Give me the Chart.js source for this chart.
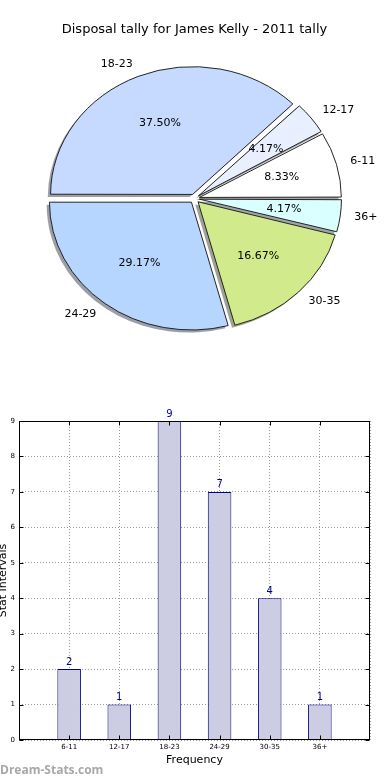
<!DOCTYPE html>
<html>
<head>
<meta charset="utf-8">
<script src="https://cdn.jsdelivr.net/npm/chart.js@4.4.1/dist/chart.umd.min.js"></script>
<style>
    body { margin: 0; background: #fff; }
    #wrap { position: relative; width: 390px; height: 780px; overflow: hidden; }
    #pie-chart { position: absolute; left: 0; top: 0; }
    #bar-chart { position: absolute; left: 0; top: 400px; }
    #mark { position: absolute; left: 0; top: 763px; font: bold 12px 'Open Sans', sans-serif; line-height: 14px; color: #a8a8a8; }
</style>
</head>
<body>
<div id="wrap">
    <canvas id="pie-chart" width="390" height="390"></canvas>
    <canvas id="bar-chart" width="390" height="380"></canvas>
    <div id="mark">Dream-Stats.com</div>
</div>
<script>
const categories = ['6-11', '12-17', '18-23', '24-29', '30-35', '36+'];
const counts = [2, 1, 9, 7, 4, 1];
const sliceColors = ['#ffffff', '#e8f0ff', '#c6daff', '#b7d6ff', '#d0ea8c', '#d9ffff'];
const chartTitle = 'Disposal tally for James Kelly - 2011 tally';

const FONT = "'DejaVu Sans', sans-serif";
const total = counts.reduce((sum, v) => sum + v, 0);
const pieRadius = 142;
const explode = 5;     // px each slice is pushed out
const squash = 0.9;    // the pie is drawn a bit flatter than round

// matplotlib goes counter-clockwise from 3 o'clock, chart.js clockwise -> reverse
const pieLabels = categories.slice().reverse();
const pieValues = counts.slice().reverse();
const pieColors = sliceColors.slice().reverse();

function shade(hex) {
    const n = parseInt(hex.slice(1), 16);
    const r = Math.round(((n >> 16) & 255) * 0.3);
    const g = Math.round(((n >> 8) & 255) * 0.3);
    const b = Math.round((n & 255) * 0.3);
    return `rgba(${r}, ${g}, ${b}, 0.5)`;
}

const pieLook = {
    id: 'pieLook',
    beforeDatasetsDraw(chart) {
        const ctx = chart.ctx;
        const arcs = chart.getDatasetMeta(0).data;
        const cx = arcs[0].x, cy = arcs[0].y;
        ctx.save();
        ctx.translate(cx, cy);
        ctx.scale(1, squash);
        ctx.translate(-cx, -cy);
        arcs.forEach((arc, i) => {
            // chart.js grows narrow slices when offset is set, take it back
            const circ = arc.endAngle - arc.startAngle;
            const fix = 1 - Math.sin(Math.min(Math.PI, circ));
            arc.outerRadius = pieRadius - explode * fix;

            const mid = (arc.startAngle + arc.endAngle) / 2;
            const sx = arc.x + explode * Math.cos(mid) - 2.8;
            const sy = arc.y + explode * Math.sin(mid) + 2.9;
            ctx.beginPath();
            ctx.moveTo(sx, sy);
            ctx.arc(sx, sy, pieRadius, arc.startAngle, arc.endAngle);
            ctx.closePath();
            ctx.fillStyle = shade(pieColors[i]);
            ctx.fill();
        });
    },
    afterDatasetsDraw(chart) {
        const ctx = chart.ctx;
        ctx.restore();
        const arcs = chart.getDatasetMeta(0).data;
        const cy = arcs[0].y;
        ctx.save();
        ctx.fillStyle = '#000';
        ctx.font = '11px ' + FONT;
        ctx.textBaseline = 'middle';
        arcs.forEach((arc, i) => {
            const mid = (arc.startAngle + arc.endAngle) / 2;
            const ox = arc.x + explode * Math.cos(mid);
            const oy = arc.y + explode * Math.sin(mid);
            const at = d => [ox + d * Math.cos(mid), cy + (oy + d * Math.sin(mid) - cy) * squash];

            const [lx, ly] = at(pieRadius * 1.1);
            ctx.textAlign = Math.cos(mid) < 0 ? 'right' : 'left';
            ctx.fillText(pieLabels[i], lx, ly);

            const [px, py] = at(pieRadius * 0.6);
            ctx.textAlign = 'center';
            ctx.fillText((pieValues[i] / total * 100).toFixed(2) + '%', px, py);
        });
        ctx.restore();
    }
};

new Chart(document.getElementById('pie-chart'), {
    type: 'pie',
    data: {
        labels: pieLabels,
        datasets: [{
            data: pieValues,
            backgroundColor: pieColors,
            borderColor: '#1a1a1a',
            borderWidth: 1,
            offset: explode * 4,
            hoverOffset: 0,
            rotation: 90,
            radius: pieRadius,
            clip: false
        }]
    },
    options: {
        responsive: false,
        animation: false,
        events: [],
        layout: { padding: { left: 49.5, right: 50.5, top: 0, bottom: 46.4 } },
        plugins: {
            legend: { display: false },
            tooltip: { enabled: false },
            title: {
                display: true,
                text: chartTitle,
                color: '#000',
                font: { family: FONT, size: 13, weight: 'normal' },
                padding: { top: 22, bottom: 16 }
            }
        }
    },
    plugins: [pieLook]
});


const barLook = {
    id: 'barLook',
    afterDatasetsDraw(chart) {
        const ctx = chart.ctx;
        const bars = chart.getDatasetMeta(0).data;
        ctx.save();
        ctx.fillStyle = '#00008b';
        ctx.font = '10px ' + FONT;
        ctx.textAlign = 'center';
        ctx.textBaseline = 'alphabetic';
        bars.forEach((bar, i) => ctx.fillText(counts[i], bar.x, bar.y - 4.5));
        ctx.restore();
    },
    afterDraw(chart) {
        const { ctx, chartArea: a, scales } = chart;
        const l = Math.round(a.left) + 0.5, r = Math.round(a.right) - 0.5;
        const t = Math.round(a.top) + 0.5, b = Math.round(a.bottom) - 0.5;
        ctx.save();
        ctx.strokeStyle = '#000';
        ctx.lineWidth = 1;
        ctx.strokeRect(l, t, r - l, b - t);
        ctx.beginPath();
        for (let v = 0; v <= 9; v++) {
            const y = Math.round(scales.y.getPixelForValue(v)) + 0.5;
            ctx.moveTo(l, y); ctx.lineTo(l + 4, y);
            ctx.moveTo(r, y); ctx.lineTo(r - 4, y);
        }
        categories.forEach((c, i) => {
            const x = Math.round(scales.x.getPixelForValue(i)) + 0.5;
            ctx.moveTo(x, b); ctx.lineTo(x, b - 4);
            ctx.moveTo(x, t); ctx.lineTo(x, t + 4);
        });
        ctx.stroke();
        ctx.restore();
    }
};

new Chart(document.getElementById('bar-chart'), {
    type: 'bar',
    data: {
        datasets: [{
            data: counts.map((v, i) => ({ x: i, y: v })),
            backgroundColor: '#cccce2',
            borderColor: '#000080',
            borderWidth: 1,
            barPercentage: 0.47,
            categoryPercentage: 1
        }]
    },
    options: {
        responsive: false,
        animation: false,
        events: [],
        layout: { padding: { left: 0, right: 20, top: 21, bottom: 10 } },
        plugins: {
            legend: { display: false },
            tooltip: { enabled: false }
        },
        scales: {
            x: {
                type: 'linear',
                min: -1,
                max: 6,
                offset: false,
                z: 1,
                afterFit: s => { s.height = 30; },
                ticks: {
                    stepSize: 1,
                    autoSkip: false,
                    maxRotation: 0,
                    padding: 3,
                    color: '#000',
                    font: { family: FONT, size: 7 },
                    callback: v => categories[v] ?? ''
                },
                grid: { offset: false, color: '#9a9a9a', drawTicks: false },
                border: { display: false, dash: [1, 2] },
                title: {
                    display: true,
                    text: 'Frequency',
                    color: '#000',
                    font: { family: FONT, size: 11 },
                    padding: { top: 0, bottom: 3.4 }
                }
            },
            y: {
                min: 0,
                max: 9,
                afterFit: s => { s.width = 19; },
                ticks: {
                    stepSize: 1,
                    padding: 4,
                    color: '#000',
                    font: { family: FONT, size: 7 }
                },
                grid: { color: '#9a9a9a', drawTicks: false },
                border: { display: false, dash: [1, 2] },
                title: {
                    display: true,
                    text: 'Stat Intervals',
                    color: '#000',
                    font: { family: FONT, size: 11 },
                    padding: { top: -3.6, bottom: 0 }
                }
            }
        }
    },
    plugins: [barLook]
});
</script>
</body>
</html>
